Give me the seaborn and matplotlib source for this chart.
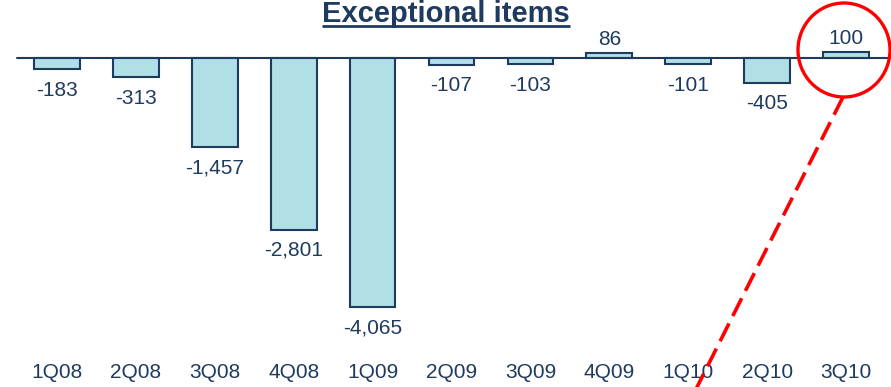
import matplotlib
matplotlib.use("Agg")
import matplotlib.pyplot as plt
from matplotlib.patches import Ellipse
import seaborn as sns
import pandas as pd

# Quarterly exceptional items
quarters = ["1Q08", "2Q08", "3Q08", "4Q08", "1Q09", "2Q09", "3Q09",
            "4Q09", "1Q10", "2Q10", "3Q10"]
values = [-183, -313, -1457, -2801, -4065, -107, -103, 86, -101, -405, 100]
title = "Exceptional items"

NAVY = "#1F3A5F"
FILL = "#B0DFE5"
RED = "#FF0000"

sns.set_theme(style="white")
plt.rcParams["font.family"] = ["Liberation Sans", "DejaVu Sans"]

W, H, DPI = 891, 387, 100
fig = plt.figure(figsize=(W / DPI, H / DPI), dpi=DPI)

# main axes: full width, bottom leaves room for category labels
ax_bottom_px = 350
ax = fig.add_axes([0, (H - ax_bottom_px) / H, 1, ax_bottom_px / H])

df = pd.DataFrame({"quarter": quarters, "value": values})
sns.barplot(data=df, x="quarter", y="value", order=quarters,
            color=FILL, edgecolor=NAVY, linewidth=1.5, width=0.58,
            saturation=1, ax=ax)

px_per_unit = 249 / 4065
zero_px = 58
ax.set_ylim(-(ax_bottom_px - zero_px) / px_per_unit, zero_px / px_per_unit)
ax.set_xlim(-57 / 78.9, (W - 57) / 78.9)

ax.axhline(0, xmin=17 / W, xmax=1, color=NAVY, linewidth=1.5, zorder=0.5)

for sp in ax.spines.values():
    sp.set_visible(False)
ax.set_yticks([])
ax.set_xlabel("")
ax.set_ylabel("")
ax.tick_params(axis="x", length=0, pad=9.5, labelsize=15, labelcolor=NAVY)

# value labels
for i, v in enumerate(values):
    off = 9.5 if v > 0 else -15
    ax.annotate(f"{v:,}", xy=(i, v), xytext=(0, off), textcoords="offset points",
                ha="center", va="center", fontsize=15, color=NAVY)

# overlay in pixel coordinates for title and callout
ov = fig.add_axes([0, 0, 1, 1], facecolor="none")
ov.set_xlim(0, W)
ov.set_ylim(H, 0)
ov.axis("off")

t = ov.text(446, 22, title, ha="center", va="baseline", fontsize=21,
            fontweight="bold", color=NAVY)
fig.canvas.draw()
bb = t.get_window_extent().transformed(ov.transData.inverted())
x0, x1 = sorted([bb.x0, bb.x1])
ov.plot([x0, x1], [25.5, 25.5], color=NAVY, linewidth=2, solid_capstyle="butt")

ov.add_patch(Ellipse((844, 50), 92, 94, fill=False, edgecolor=RED, linewidth=2.4))
ov.plot([843, 690], [97, 401], color=RED, linewidth=2.6,
        linestyle=(0, (5.5, 2.3)), clip_on=False)

fig.savefig("out.png", dpi=DPI)
